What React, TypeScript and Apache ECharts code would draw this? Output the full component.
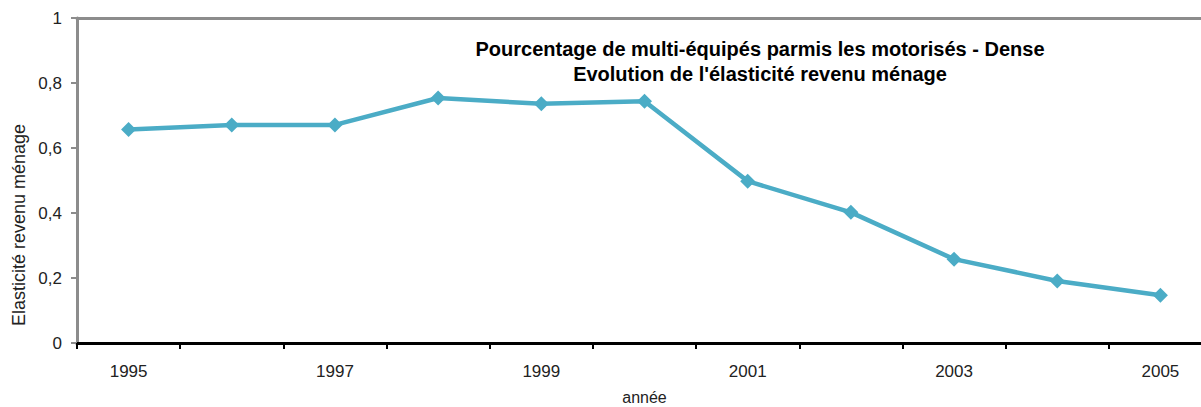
import React, { useEffect, useRef } from "react";
import * as echarts from "echarts";

const years = ["1995", "1996", "1997", "1998", "1999", "2000", "2001", "2002", "2003", "2004", "2005"];
const elasticity = [0.657, 0.671, 0.671, 0.754, 0.736, 0.744, 0.498, 0.402, 0.258, 0.191, 0.147];
const titleLines = [
  "Pourcentage de multi-équipés parmis les motorisés - Dense",
  "Evolution de l'élasticité revenu ménage",
];
const yAxisName = "Elasticité revenu ménage";
const xAxisName = "année";

export default function App() {
  const ref = useRef<HTMLDivElement>(null);
  useEffect(() => {
    document.body.style.margin = "0";
    document.body.style.overflow = "hidden";
    const chart = echarts.init(ref.current!, null, { renderer: "svg" });
    chart.setOption({
      animation: false,
      backgroundColor: "#ffffff",
      title: {
        text: titleLines.join("\n"),
        left: 755,
        top: 31,
        textAlign: "center",
        textStyle: {
          fontFamily: "Liberation Sans",
          fontWeight: "bold",
          fontSize: 20,
          lineHeight: 25,
          color: "#000",
        },
      },
      grid: { left: 77, top: 18, right: -11, bottom: 64, outerBoundsMode: "none", containLabel: false },
      graphic: [
        {
          type: "text",
          x: 19,
          y: 225,
          rotation: Math.PI / 2,
          style: {
            text: yAxisName,
            fontFamily: "Liberation Sans",
            fontSize: 18,
            fill: "#222",
            align: "center",
            verticalAlign: "middle",
          },
        },
      ],
      xAxis: [
        {
          type: "category",
          data: years,
          boundaryGap: true,
          name: xAxisName,
          nameLocation: "middle",
          nameGap: 46,
          nameTextStyle: { fontFamily: "Liberation Sans", fontSize: 16, lineHeight: 16, color: "#222" },
          axisLine: { lineStyle: { color: "#000", width: 3 } },
          axisTick: { show: true, length: 6, interval: 0, lineStyle: { color: "#000", width: 2 } },
          axisLabel: {
            interval: 1,
            margin: 20,
            fontFamily: "Liberation Sans",
            fontSize: 17,
            color: "#222",
          },
          splitLine: { show: false },
        },
        {
          type: "category",
          data: years,
          position: "top",
          axisLine: { lineStyle: { color: "#8c8c8c", width: 3 } },
          axisTick: { show: false },
          axisLabel: { show: false },
          splitLine: { show: false },
        },
      ],
      yAxis: {
        type: "value",
        min: 0,
        max: 1,
        interval: 0.2,
        axisLine: { show: true, lineStyle: { color: "#8c8c8c", width: 3 } },
        axisTick: { show: true, length: 6, lineStyle: { color: "#8c8c8c", width: 2 } },
        axisLabel: {
          margin: 15,
          fontFamily: "Liberation Sans",
          fontSize: 17,
          color: "#222",
          formatter: (v: number) => (v === 0 || v === 1 ? String(v) : v.toFixed(1).replace(".", ",")),
        },
        splitLine: { show: false },
      },
      series: [
        {
          type: "line",
          data: elasticity,
          symbol: "diamond",
          symbolSize: 15,
          lineStyle: { color: "#4BACC6", width: 4.5 },
          itemStyle: { color: "#4BACC6" },
        },
      ],
    });
    return () => chart.dispose();
  }, []);
  return <div ref={ref} style={{ width: 1201, height: 407 }} />;
}
